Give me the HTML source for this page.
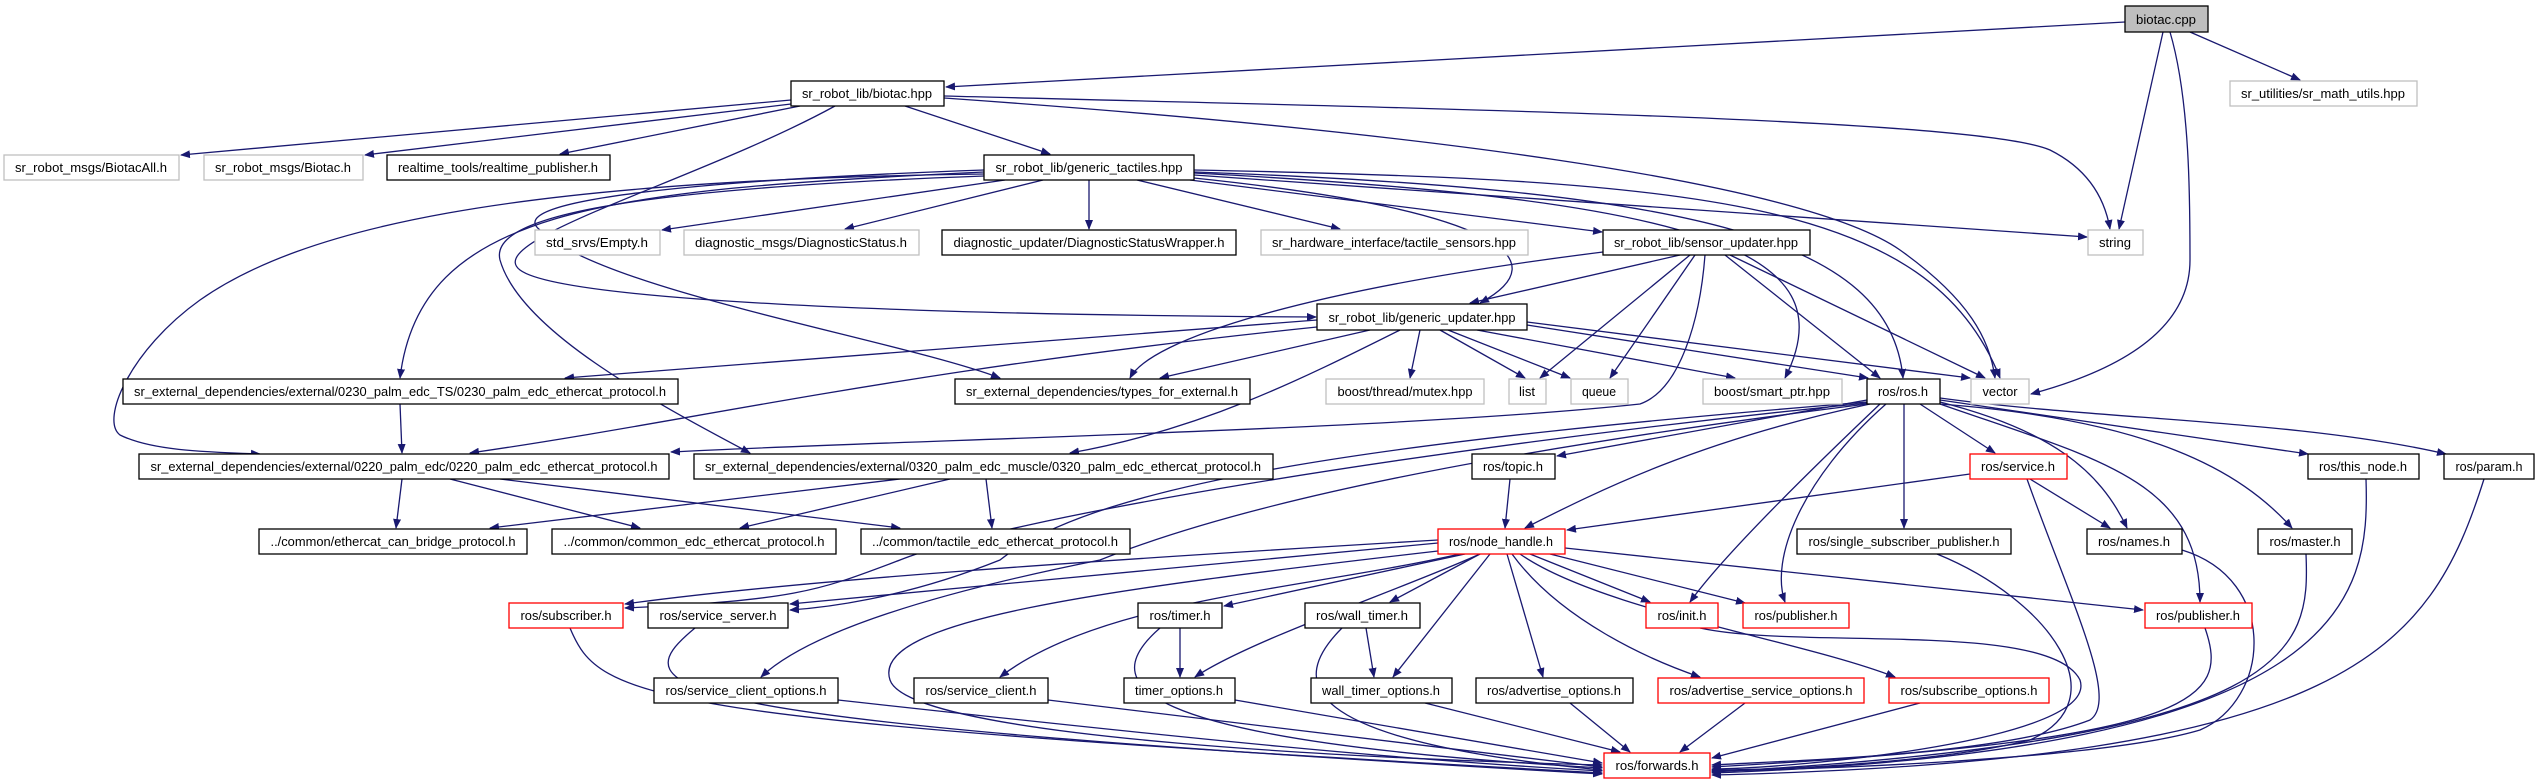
<!DOCTYPE html>
<html><head><meta charset="utf-8"><style>
html,body{margin:0;padding:0;background:#fff;}
svg{display:block;}
text{font-family:"Liberation Sans",sans-serif;font-size:13px;fill:#000;}
.e{fill:none;stroke:#191970;stroke-width:1.3;marker-end:url(#a);}
</style></head><body>
<svg width="2540" height="784" viewBox="0 0 2540 784" xmlns="http://www.w3.org/2000/svg">
<defs><marker id="a" markerWidth="10" markerHeight="8" refX="9" refY="4" orient="auto" markerUnits="userSpaceOnUse"><path d="M0,0 L10,4 L0,8 z" fill="#191970"/></marker></defs>
<g>
<path class="e" d="M2125,22 L946,87"/>
<path class="e" d="M2190,32 L2300,80"/>
<path class="e" d="M2163,32 L2119,229"/>
<path class="e" d="M2170,32 C2190,100 2190,200 2190,260 C2190,330 2120,370 2031,394"/>
<path class="e" d="M791,100 L181,155"/>
<path class="e" d="M791,104 L365,155"/>
<path class="e" d="M800,106 L560,154"/>
<path class="e" d="M905,106 L1050,154"/>
<path class="e" d="M944,96 C1500,110 1980,120 2050,150 C2090,170 2105,200 2110,229"/>
<path class="e" d="M944,98 C1400,130 1800,180 1900,250 C1970,300 1990,340 1995,378"/>
<path class="e" d="M835,106 C700,180 480,240 520,270 C560,300 900,315 1316,317"/>
<path class="e" d="M1005,180 L662,230"/>
<path class="e" d="M1043,180 L845,229"/>
<path class="e" d="M1089,180 L1089,229"/>
<path class="e" d="M1137,180 L1340,229"/>
<path class="e" d="M1190,180 L1602,232"/>
<path class="e" d="M1194,175 L2087,237"/>
<path class="e" d="M1194,170 C1700,180 1930,200 2000,378"/>
<path class="e" d="M1194,172 C1700,190 1890,240 1903,378"/>
<path class="e" d="M1194,173 C1700,200 1850,250 1785,378"/>
<path class="e" d="M1194,178 C1500,210 1560,260 1480,303"/>
<path class="e" d="M984,170 C700,180 500,200 540,230 C600,290 900,340 1000,378"/>
<path class="e" d="M984,172 C600,190 420,210 400,378"/>
<path class="e" d="M984,174 C500,180 300,230 200,300 C130,350 100,420 120,435 C150,450 200,452 260,454"/>
<path class="e" d="M984,176 C600,190 490,220 500,260 C520,330 650,400 750,453"/>
<path class="e" d="M1680,255 L1470,303"/>
<path class="e" d="M1603,252 C1300,290 1150,340 1130,378"/>
<path class="e" d="M1690,255 L1540,378"/>
<path class="e" d="M1695,255 L1610,378"/>
<path class="e" d="M1725,255 L1880,378"/>
<path class="e" d="M1730,255 L1985,378"/>
<path class="e" d="M1705,255 C1700,320 1680,390 1640,404 C1400,430 900,440 671,452"/>
<path class="e" d="M1317,320 L565,378"/>
<path class="e" d="M1317,327 C900,370 700,420 470,453"/>
<path class="e" d="M1370,330 L1160,378"/>
<path class="e" d="M1400,330 C1300,380 1200,430 1070,453"/>
<path class="e" d="M1420,330 L1410,378"/>
<path class="e" d="M1440,330 L1525,378"/>
<path class="e" d="M1448,330 L1570,378"/>
<path class="e" d="M1477,330 L1735,378"/>
<path class="e" d="M1527,325 L1868,378"/>
<path class="e" d="M1527,322 L1970,378"/>
<path class="e" d="M400,404 L402,453"/>
<path class="e" d="M402,479 L396,528"/>
<path class="e" d="M450,479 L640,528"/>
<path class="e" d="M500,479 L900,528"/>
<path class="e" d="M900,479 L490,528"/>
<path class="e" d="M950,479 L740,528"/>
<path class="e" d="M986,479 L992,528"/>
<path class="e" d="M1867,400 L1557,456"/>
<path class="e" d="M1870,404 C1700,440 1600,490 1525,528"/>
<path class="e" d="M1920,404 L1995,453"/>
<path class="e" d="M1940,400 L2308,454"/>
<path class="e" d="M1940,398 C2100,420 2300,420 2446,454"/>
<path class="e" d="M1940,402 C2050,430 2100,470 2127,528"/>
<path class="e" d="M1940,404 C2150,420 2240,470 2292,528"/>
<path class="e" d="M1904,404 L1904,528"/>
<path class="e" d="M1940,404 C2100,460 2200,480 2200,602"/>
<path class="e" d="M1886,404 C1800,480 1770,560 1785,602"/>
<path class="e" d="M1880,404 C1800,480 1720,560 1690,602"/>
<path class="e" d="M1867,402 C1400,440 1100,480 1000,560 C900,600 820,608 790,610"/>
<path class="e" d="M1867,403 C1400,450 1000,520 900,560 C820,590 800,600 625,608"/>
<path class="e" d="M1867,404 C1500,450 1250,500 1100,560 C900,600 800,640 761,677"/>
<path class="e" d="M1970,474 L1567,530"/>
<path class="e" d="M2030,479 L2110,528"/>
<path class="e" d="M2027,479 C2070,600 2120,700 2090,720 C2000,755 1800,760 1712,765"/>
<path class="e" d="M1510,479 L1505,528"/>
<path class="e" d="M1438,540 C1100,560 800,580 625,604"/>
<path class="e" d="M1438,543 L790,604"/>
<path class="e" d="M1460,554 C1300,590 1100,600 1000,677"/>
<path class="e" d="M1465,554 L1224,606"/>
<path class="e" d="M1480,554 C1400,590 1250,640 1195,677"/>
<path class="e" d="M1480,554 L1390,602"/>
<path class="e" d="M1490,554 L1393,677"/>
<path class="e" d="M1507,554 L1543,677"/>
<path class="e" d="M1512,554 C1560,620 1650,660 1700,677"/>
<path class="e" d="M1520,554 C1600,610 1800,640 1895,677"/>
<path class="e" d="M1530,554 L1650,602"/>
<path class="e" d="M1550,554 L1745,603"/>
<path class="e" d="M1565,548 L2143,610"/>
<path class="e" d="M1438,551 C1100,590 870,620 890,680 C910,740 1400,760 1602,765"/>
<path class="e" d="M1180,628 L1180,677"/>
<path class="e" d="M1160,628 C1100,680 1110,740 1602,768"/>
<path class="e" d="M1366,628 L1374,677"/>
<path class="e" d="M1342,628 C1290,680 1290,740 1602,770"/>
<path class="e" d="M838,700 C1200,740 1400,760 1602,771"/>
<path class="e" d="M1048,700 L1602,767"/>
<path class="e" d="M1235,700 L1602,763"/>
<path class="e" d="M1425,703 L1620,752"/>
<path class="e" d="M1570,703 L1630,752"/>
<path class="e" d="M1745,703 L1680,752"/>
<path class="e" d="M1920,703 L1712,758"/>
<path class="e" d="M570,628 C600,700 640,720 1602,773"/>
<path class="e" d="M695,628 C620,690 640,720 1602,774"/>
<path class="e" d="M1700,628 C1800,650 2050,620 2080,680 C2100,740 1800,768 1712,769"/>
<path class="e" d="M2205,628 C2230,700 2200,740 1712,767"/>
<path class="e" d="M1937,554 C2050,600 2120,700 2030,740 C1950,760 1800,770 1712,770"/>
<path class="e" d="M2182,550 C2280,580 2270,700 2200,730 C2100,760 1800,770 1712,771"/>
<path class="e" d="M2306,554 C2310,650 2300,740 1712,772"/>
<path class="e" d="M2366,479 C2370,600 2350,750 1712,773"/>
<path class="e" d="M2484,479 C2430,650 2350,760 1712,775"/>
</g>
<g stroke-width="1.3" fill="#fff">
<rect x="2125" y="6" width="83" height="26" fill="#bfbfbf" stroke="#000"/>
<rect x="791" y="81" width="153" height="25" stroke="#000"/>
<rect x="2230" y="81" width="187" height="25" stroke="#bfbfbf"/>
<rect x="4" y="155" width="175" height="25" stroke="#bfbfbf"/>
<rect x="204" y="155" width="159" height="25" stroke="#bfbfbf"/>
<rect x="387" y="155" width="223" height="25" stroke="#000"/>
<rect x="984" y="155" width="210" height="25" stroke="#000"/>
<rect x="535" y="230" width="125" height="25" stroke="#bfbfbf"/>
<rect x="684" y="230" width="235" height="25" stroke="#bfbfbf"/>
<rect x="942" y="230" width="294" height="25" stroke="#000"/>
<rect x="1261" y="230" width="267" height="25" stroke="#bfbfbf"/>
<rect x="1603" y="230" width="207" height="25" stroke="#000"/>
<rect x="2088" y="230" width="55" height="25" stroke="#bfbfbf"/>
<rect x="1317" y="304" width="210" height="26" stroke="#000"/>
<rect x="123" y="379" width="555" height="25" stroke="#000"/>
<rect x="955" y="379" width="295" height="25" stroke="#000"/>
<rect x="1326" y="379" width="158" height="25" stroke="#bfbfbf"/>
<rect x="1509" y="379" width="37" height="25" stroke="#bfbfbf"/>
<rect x="1571" y="379" width="57" height="25" stroke="#bfbfbf"/>
<rect x="1703" y="379" width="139" height="25" stroke="#bfbfbf"/>
<rect x="1867" y="379" width="73" height="25" stroke="#000"/>
<rect x="1971" y="379" width="58" height="25" stroke="#bfbfbf"/>
<rect x="139" y="454" width="530" height="25" stroke="#000"/>
<rect x="694" y="454" width="579" height="25" stroke="#000"/>
<rect x="1472" y="454" width="83" height="25" stroke="#000"/>
<rect x="1970" y="454" width="97" height="25" stroke="#f00"/>
<rect x="2308" y="454" width="111" height="25" stroke="#000"/>
<rect x="2444" y="454" width="90" height="25" stroke="#000"/>
<rect x="259" y="529" width="268" height="25" stroke="#000"/>
<rect x="552" y="529" width="284" height="25" stroke="#000"/>
<rect x="861" y="529" width="269" height="25" stroke="#000"/>
<rect x="1438" y="529" width="127" height="25" stroke="#f00"/>
<rect x="1797" y="529" width="214" height="25" stroke="#000"/>
<rect x="2087" y="529" width="95" height="25" stroke="#000"/>
<rect x="2258" y="529" width="94" height="25" stroke="#000"/>
<rect x="509" y="603" width="114" height="25" stroke="#f00"/>
<rect x="648" y="603" width="140" height="25" stroke="#000"/>
<rect x="1138" y="603" width="84" height="25" stroke="#000"/>
<rect x="1305" y="603" width="115" height="25" stroke="#000"/>
<rect x="1646" y="603" width="72" height="25" stroke="#f00"/>
<rect x="1743" y="603" width="106" height="25" stroke="#f00"/>
<rect x="2145" y="603" width="107" height="25" stroke="#f00"/>
<rect x="654" y="678" width="184" height="25" stroke="#000"/>
<rect x="914" y="678" width="134" height="25" stroke="#000"/>
<rect x="1124" y="678" width="111" height="25" stroke="#000"/>
<rect x="1311" y="678" width="141" height="25" stroke="#000"/>
<rect x="1476" y="678" width="157" height="25" stroke="#000"/>
<rect x="1658" y="678" width="206" height="25" stroke="#f00"/>
<rect x="1889" y="678" width="160" height="25" stroke="#f00"/>
<rect x="1604" y="753" width="106" height="25" stroke="#f00"/>
</g>
<g text-anchor="middle" lengthAdjust="spacingAndGlyphs">
<text x="2166" y="24" textLength="60" lengthAdjust="spacingAndGlyphs">biotac.cpp</text>
<text x="867" y="98" textLength="130" lengthAdjust="spacingAndGlyphs">sr_robot_lib/biotac.hpp</text>
<text x="2323" y="98" textLength="164" lengthAdjust="spacingAndGlyphs">sr_utilities/sr_math_utils.hpp</text>
<text x="91" y="172" textLength="152" lengthAdjust="spacingAndGlyphs">sr_robot_msgs/BiotacAll.h</text>
<text x="283" y="172" textLength="136" lengthAdjust="spacingAndGlyphs">sr_robot_msgs/Biotac.h</text>
<text x="498" y="172" textLength="200" lengthAdjust="spacingAndGlyphs">realtime_tools/realtime_publisher.h</text>
<text x="1089" y="172" textLength="187" lengthAdjust="spacingAndGlyphs">sr_robot_lib/generic_tactiles.hpp</text>
<text x="597" y="247" textLength="102" lengthAdjust="spacingAndGlyphs">std_srvs/Empty.h</text>
<text x="801" y="247" textLength="212" lengthAdjust="spacingAndGlyphs">diagnostic_msgs/DiagnosticStatus.h</text>
<text x="1089" y="247" textLength="271" lengthAdjust="spacingAndGlyphs">diagnostic_updater/DiagnosticStatusWrapper.h</text>
<text x="1394" y="247" textLength="244" lengthAdjust="spacingAndGlyphs">sr_hardware_interface/tactile_sensors.hpp</text>
<text x="1706" y="247" textLength="184" lengthAdjust="spacingAndGlyphs">sr_robot_lib/sensor_updater.hpp</text>
<text x="2115" y="247" textLength="32" lengthAdjust="spacingAndGlyphs">string</text>
<text x="1422" y="322" textLength="187" lengthAdjust="spacingAndGlyphs">sr_robot_lib/generic_updater.hpp</text>
<text x="400" y="396" textLength="532" lengthAdjust="spacingAndGlyphs">sr_external_dependencies/external/0230_palm_edc_TS/0230_palm_edc_ethercat_protocol.h</text>
<text x="1102" y="396" textLength="272" lengthAdjust="spacingAndGlyphs">sr_external_dependencies/types_for_external.h</text>
<text x="1405" y="396" textLength="135" lengthAdjust="spacingAndGlyphs">boost/thread/mutex.hpp</text>
<text x="1527" y="396" textLength="16" lengthAdjust="spacingAndGlyphs">list</text>
<text x="1599" y="396" textLength="34" lengthAdjust="spacingAndGlyphs">queue</text>
<text x="1772" y="396" textLength="116" lengthAdjust="spacingAndGlyphs">boost/smart_ptr.hpp</text>
<text x="1903" y="396" textLength="50" lengthAdjust="spacingAndGlyphs">ros/ros.h</text>
<text x="2000" y="396" textLength="35" lengthAdjust="spacingAndGlyphs">vector</text>
<text x="404" y="471" textLength="507" lengthAdjust="spacingAndGlyphs">sr_external_dependencies/external/0220_palm_edc/0220_palm_edc_ethercat_protocol.h</text>
<text x="983" y="471" textLength="556" lengthAdjust="spacingAndGlyphs">sr_external_dependencies/external/0320_palm_edc_muscle/0320_palm_edc_ethercat_protocol.h</text>
<text x="1513" y="471" textLength="60" lengthAdjust="spacingAndGlyphs">ros/topic.h</text>
<text x="2018" y="471" textLength="74" lengthAdjust="spacingAndGlyphs">ros/service.h</text>
<text x="2363" y="471" textLength="88" lengthAdjust="spacingAndGlyphs">ros/this_node.h</text>
<text x="2489" y="471" textLength="67" lengthAdjust="spacingAndGlyphs">ros/param.h</text>
<text x="393" y="546" textLength="245" lengthAdjust="spacingAndGlyphs">../common/ethercat_can_bridge_protocol.h</text>
<text x="694" y="546" textLength="261" lengthAdjust="spacingAndGlyphs">../common/common_edc_ethercat_protocol.h</text>
<text x="995" y="546" textLength="246" lengthAdjust="spacingAndGlyphs">../common/tactile_edc_ethercat_protocol.h</text>
<text x="1501" y="546" textLength="104" lengthAdjust="spacingAndGlyphs">ros/node_handle.h</text>
<text x="1904" y="546" textLength="191" lengthAdjust="spacingAndGlyphs">ros/single_subscriber_publisher.h</text>
<text x="2134" y="546" textLength="72" lengthAdjust="spacingAndGlyphs">ros/names.h</text>
<text x="2305" y="546" textLength="71" lengthAdjust="spacingAndGlyphs">ros/master.h</text>
<text x="566" y="620" textLength="91" lengthAdjust="spacingAndGlyphs">ros/subscriber.h</text>
<text x="718" y="620" textLength="117" lengthAdjust="spacingAndGlyphs">ros/service_server.h</text>
<text x="1180" y="620" textLength="61" lengthAdjust="spacingAndGlyphs">ros/timer.h</text>
<text x="1362" y="620" textLength="92" lengthAdjust="spacingAndGlyphs">ros/wall_timer.h</text>
<text x="1682" y="620" textLength="49" lengthAdjust="spacingAndGlyphs">ros/init.h</text>
<text x="1796" y="620" textLength="83" lengthAdjust="spacingAndGlyphs">ros/publisher.h</text>
<text x="2198" y="620" textLength="84" lengthAdjust="spacingAndGlyphs">ros/publisher.h</text>
<text x="746" y="695" textLength="161" lengthAdjust="spacingAndGlyphs">ros/service_client_options.h</text>
<text x="981" y="695" textLength="111" lengthAdjust="spacingAndGlyphs">ros/service_client.h</text>
<text x="1179" y="695" textLength="88" lengthAdjust="spacingAndGlyphs">timer_options.h</text>
<text x="1381" y="695" textLength="118" lengthAdjust="spacingAndGlyphs">wall_timer_options.h</text>
<text x="1554" y="695" textLength="134" lengthAdjust="spacingAndGlyphs">ros/advertise_options.h</text>
<text x="1761" y="695" textLength="183" lengthAdjust="spacingAndGlyphs">ros/advertise_service_options.h</text>
<text x="1969" y="695" textLength="137" lengthAdjust="spacingAndGlyphs">ros/subscribe_options.h</text>
<text x="1657" y="770" textLength="83" lengthAdjust="spacingAndGlyphs">ros/forwards.h</text>
</g>
</svg>
</body></html>
